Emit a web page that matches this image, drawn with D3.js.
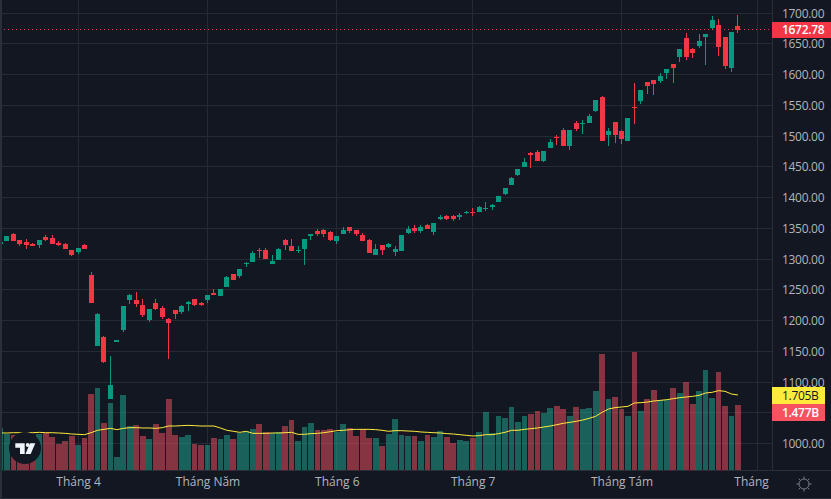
<!DOCTYPE html>
<html lang="vi">
<head>
    <meta charset="UTF-8">
    <title>Biểu đồ nến</title>
    <script src="https://cdn.jsdelivr.net/npm/d3@7"></script>
    <style type="text/css">
        html, body { margin: 0; padding: 0; background: #131722; overflow: hidden; }
        svg { display: block; }
        text { font-family: "Open Sans", "Noto Sans", sans-serif; }
        .tick text { fill: #B2B5BE; font-size: 12px; }
        .price .tick text { letter-spacing: -0.3px; }
        .axis path, .axis line { display: none; }
        .grid { stroke: #262A35; stroke-width: 1; shape-rendering: crispEdges; }
    </style>
</head>
<body>
    <div id="diagram"></div>
    <script type="text/javascript">
        // values, first candle is the cut off one at the left edge
        var opens = [1324.5,1329.4,1340.7,1331,1327.7,1324.5,1322.9,1335.9,1334.2,1326.1,1324.5,1314.7,1311.5,1322.9,1274.1,1158.6,1173.3,1072.4,1165.1,1184.6,1233.4,1233.4,1225.3,1200.9,1228.5,1220.4,1202.5,1217.2,1213.9,1226.9,1235,1228.5,1233.4,1244.8,1239.9,1254.5,1275.7,1272.4,1292,1295.2,1314.7,1314.7,1292,1298.5,1331,1321.2,1313.1,1316.4,1337.5,1345.6,1347.3,1344,1329.4,1340.8,1352.1,1347.3,1339.1,1331,1306.6,1322.9,1319.6,1311.5,1313.1,1342.4,1350.5,1345.6,1355.4,1344,1365.1,1370,1370,1368.4,1374.9,1376.5,1376.5,1381.4,1384.7,1392.8,1405.7,1420.4,1436.6,1449.6,1472.4,1474,1459.4,1480.5,1498.4,1509.8,1483.8,1521.2,1519.6,1521.2,1540.7,1563.5,1501.7,1522.8,1508.2,1491.9,1547.2,1557,1587.9,1591.1,1589.5,1602.5,1617.1,1628.5,1659.4,1641.5,1646.4,1661,1675.7,1680.6,1661,1610.6,1678.9];
        var closes = [1327.7,1337.5,1329.4,1324.5,1322.9,1321.2,1331,1331,1324.5,1322.9,1316.3,1306.6,1318,1316.3,1228.5,1210.6,1132.6,1095.2,1168.4,1223.7,1241.5,1226.9,1209,1218.8,1218.8,1205.8,1196,1210.6,1223.7,1230.2,1225.3,1225.3,1241.5,1241.5,1251.3,1270.8,1265.9,1283.8,1293.6,1309.8,1313.1,1300.1,1296.8,1316.3,1322.9,1313.1,1314.7,1332.6,1340.8,1340.8,1340.8,1331,1337.5,1347.3,1345.6,1340.8,1329.4,1309.9,1316.4,1314.7,1324.5,1316.4,1339.1,1348.9,1345.6,1352.1,1348.9,1358.6,1368.4,1365.1,1365.1,1371.6,1376.5,1375.4,1384.7,1383,1387.9,1402.5,1415.5,1431.8,1446.4,1457.8,1469.1,1459.4,1475.7,1490.3,1497.3,1483.8,1509.8,1511.4,1521.2,1532.6,1558.6,1491.9,1508.2,1501.7,1495.2,1529.3,1546.1,1574.8,1581.4,1584.6,1597.6,1609,1610.6,1641.5,1628.5,1635,1654.5,1665.9,1688.7,1644.8,1613.9,1669.2,1672.78];
        var highs = [1327.7,1337.5,1342.4,1331,1332.6,1326.1,1331,1339.1,1339.1,1329.4,1326.1,1314.7,1318,1324.5,1279,1212.3,1174.9,1142.4,1168.4,1223.7,1243.2,1246.4,1235,1218.8,1235,1223.7,1204.2,1217.2,1225.3,1231.8,1235,1230.2,1241.5,1251.3,1251.3,1272.4,1275.7,1283.8,1295.2,1313.1,1318,1318,1306.6,1318,1332.6,1332.6,1321.2,1332.6,1340.8,1348.9,1348.9,1345.6,1337.5,1352.1,1352.1,1347.3,1342.4,1332.6,1324.5,1322.9,1326.1,1321.2,1339.1,1353.8,1355.4,1355.4,1357,1358.6,1371.6,1371.6,1371.6,1374.9,1378.2,1383,1386.3,1392.8,1389.5,1402.5,1415.5,1433.4,1446.4,1464.3,1474,1477.3,1475.7,1495.2,1501.7,1513,1509.8,1524.4,1526.1,1535.8,1558.6,1565.1,1513,1522.8,1509.8,1529.3,1586.2,1574.8,1587.9,1591.1,1602.5,1609,1617.1,1641.5,1667.5,1643.2,1665.9,1665.9,1695.2,1690.3,1661,1669.2,1696.8];
        var lows = [1324.5,1329.4,1329.4,1321.2,1316.3,1321.2,1318.5,1329.4,1324.5,1321.2,1316.3,1305,1308.2,1316.3,1228.5,1158.6,1131,1072.4,1165.1,1181.4,1226.9,1222,1205.8,1197.6,1217.2,1202.5,1137.5,1202.5,1210.6,1215.5,1223.7,1223.7,1228.5,1241.5,1239.9,1254.5,1265.9,1269.2,1287.1,1295.2,1301.7,1300.1,1292,1298.5,1314.7,1313.1,1309.9,1290.4,1331,1337.5,1335.9,1329.4,1324.5,1340.8,1342.4,1337.5,1329.4,1309.9,1306.6,1306.6,1318,1305,1313.1,1340.8,1342.4,1342.4,1348.9,1339.1,1363.5,1364,1361.9,1363.5,1373.3,1370,1376.5,1378.2,1379.8,1392.8,1404.1,1420.4,1435,1449.6,1448,1459.4,1457.8,1480.5,1485.4,1483.8,1477.3,1508.2,1503.3,1521.2,1539.1,1491.9,1483.8,1488.7,1487,1491.9,1519.6,1552.1,1568.4,1566.7,1586.2,1592.7,1586.2,1620.4,1623.6,1626.9,1643.2,1615.5,1672.4,1630.1,1609,1604.1,1667.5];
        // volume in billions (B)
        var volumes = [0.955,0.82,0.8,0.62,0.65,0.72,0.82,0.84,0.75,0.59,0.66,0.77,0.57,0.73,1.73,1.86,1.07,1.52,0.295,1.70,1.0,1.02,0.77,0.70,1.05,0.84,1.61,0.80,0.75,0.80,0.59,0.57,0.57,0.73,0.70,0.80,0.70,0.84,0.89,0.93,1.05,0.86,0.84,0.86,1.0,1.14,0.66,0.98,1.07,0.91,0.91,0.93,0.86,1.05,0.95,0.77,0.93,0.73,0.73,0.55,0.82,1.16,0.80,0.77,0.77,0.66,0.80,0.75,0.89,0.75,0.61,0.68,0.66,0.73,0.86,1.32,0.84,1.23,1.18,1.43,1.09,1.23,1.27,1.34,1.30,1.41,1.45,1.39,1.23,1.43,1.39,1.41,1.80,2.64,1.61,1.66,1.39,1.23,2.68,1.34,1.61,1.82,1.59,1.59,1.86,1.75,2.0,1.50,1.80,2.27,1.64,2.23,1.45,1.23,1.477];
        var volumeMA = [0.841,0.841,0.848,0.848,0.848,0.848,0.856,0.848,0.848,0.841,0.833,0.818,0.811,0.803,0.848,0.902,0.924,0.947,0.917,0.947,0.962,0.962,0.955,0.955,0.947,0.962,1.0,1.0,1.008,1.015,1.008,1.0,1.0,1.0,0.955,0.902,0.879,0.856,0.879,0.833,0.833,0.833,0.841,0.841,0.848,0.856,0.811,0.811,0.826,0.833,0.848,0.871,0.894,0.902,0.917,0.924,0.924,0.924,0.917,0.902,0.879,0.894,0.894,0.886,0.879,0.864,0.856,0.848,0.841,0.826,0.818,0.803,0.788,0.773,0.780,0.803,0.803,0.826,0.856,0.902,0.902,0.924,0.939,0.955,0.977,1.0,1.03,1.061,1.083,1.106,1.136,1.174,1.22,1.311,1.386,1.417,1.432,1.447,1.523,1.53,1.545,1.568,1.583,1.598,1.621,1.644,1.659,1.674,1.697,1.75,1.765,1.803,1.788,1.727,1.705];
        var priceTicks = [1700,1650,1600,1550,1500,1450,1400,1350,1300,1250,1200,1150,1100,1000];
        var gridPrices = priceTicks.concat([1050]);
        var monthTicks = [12,32,52,73,96,117];
        var monthLabels = ["Tháng 4","Tháng Năm","Tháng 6","Tháng 7","Tháng Tám","Tháng"];
        var lastPrice = 1672.78;

        var width = 831, height = 499;
        var chart_width = 772, chart_bottom = 470;
        var up = "#089981", down = "#F23645";
        var volUp = "#22AB94", volDown = "#F7525F";

        var svg = d3.select("#diagram").append("svg")
            .attr("width", width)
            .attr("height", height);

        var x = d3.scaleLinear().domain([0, 117]).range([0.48, 757.35]);
        var y = d3.scaleLinear().domain([1000, 1700]).range([443.7, 13.2]);
        var v = d3.scaleLinear().domain([0, 1]).range([chart_bottom, chart_bottom - 44]);

        svg.append("clipPath").attr("id", "pane").append("rect")
            .attr("x", 2).attr("y", 0).attr("width", chart_width - 2).attr("height", chart_bottom);

        // grid
        svg.selectAll(".hgrid").data(gridPrices).enter().append("line")
            .attr("class", "grid")
            .attr("x1", 0).attr("x2", chart_width)
            .attr("y1", function (d) { return y(d); })
            .attr("y2", function (d) { return y(d); });
        svg.selectAll(".vgrid").data(monthTicks).enter().append("line")
            .attr("class", "grid")
            .attr("x1", function (d) { return Math.floor(x(d)) + 0.5; })
            .attr("x2", function (d) { return Math.floor(x(d)) + 0.5; })
            .attr("y1", 0).attr("y2", chart_bottom);

        var pane = svg.append("g").attr("clip-path", "url(#pane)");

        // volume
        pane.selectAll(".vol").data(volumes).enter().append("rect")
            .attr("class", "vol")
            .attr("x", function (d, i) { return Math.round(x(i) - 2.9); })
            .attr("width", function (d, i) { return Math.round(x(i) + 2.9) - Math.round(x(i) - 2.9); })
            .attr("y", function (d) { return v(d); })
            .attr("height", function (d) { return chart_bottom - v(d); })
            .attr("fill", function (d, i) { return closes[i] >= opens[i] ? volUp : volDown; })
            .attr("opacity", 0.5)
            .attr("shape-rendering", "crispEdges");

        // candles
        var candle = pane.selectAll(".candle").data(opens).enter().append("g").attr("class", "candle")
            .attr("fill", function (d, i) { return closes[i] >= opens[i] ? up : down; })
            .attr("shape-rendering", "crispEdges");
        candle.append("rect")
            .attr("x", function (d, i) { return Math.floor(x(i)); })
            .attr("width", 1)
            .attr("y", function (d, i) { return y(highs[i]); })
            .attr("height", function (d, i) { return y(lows[i]) - y(highs[i]); });
        candle.append("rect")
            .attr("x", function (d, i) { return Math.floor(x(i)) - 2; })
            .attr("width", 5)
            .attr("y", function (d, i) { return y(Math.max(opens[i], closes[i])); })
            .attr("height", function (d, i) { return Math.max(1, Math.abs(y(opens[i]) - y(closes[i]))); });

        // volume average
        var maLine = d3.line()
            .x(function (d, i) { return x(i); })
            .y(function (d) { return v(d); });
        pane.append("path")
            .attr("d", maLine(volumeMA))
            .attr("fill", "none")
            .attr("stroke", "#FFEB3B")
            .attr("stroke-width", 1);

        // last price line
        svg.append("line")
            .attr("x1", 0).attr("x2", chart_width)
            .attr("y1", Math.floor(y(lastPrice)) + 0.5).attr("y2", Math.floor(y(lastPrice)) + 0.5)
            .attr("stroke", down)
            .attr("stroke-dasharray", "1 3");

        // logo
        var logo = svg.append("g");
        logo.append("circle").attr("cx", 25).attr("cy", 448).attr("r", 16).attr("fill", "#131722");
        logo.append("path").attr("fill", "#F0F3FA")
            .attr("d", "M15.3 443.3H24.7V454H20V447.7H15.3Z M30 443.3H35.3L30.7 454H25.5Z");
        logo.append("circle").attr("cx", 27.7).attr("cy", 445).attr("r", 1.9).attr("fill", "#F0F3FA");

        // panes borders
        svg.append("rect").attr("x", 0).attr("y", 0).attr("width", 2).attr("height", height).attr("fill", "#2A2E39");
        svg.append("rect").attr("x", 0).attr("y", height - 1).attr("width", width).attr("height", 1).attr("fill", "#2A2E39");
        svg.append("rect").attr("x", 0).attr("y", chart_bottom).attr("width", width).attr("height", 1).attr("fill", "#2A2E39");
        svg.append("rect").attr("x", chart_width).attr("y", 0).attr("width", 1).attr("height", chart_bottom).attr("fill", "#2A2E39");

        // axes
        svg.append("g")
            .attr("class", "axis price")
            .attr("transform", "translate(" + chart_width + ",0)")
            .call(d3.axisRight(y).tickValues(priceTicks).tickSize(0).tickPadding(10).tickFormat(d3.format(".2f")));
        var xAxis = svg.append("g")
            .attr("class", "axis")
            .attr("transform", "translate(0," + chart_bottom + ")")
            .call(d3.axisBottom(x).tickValues(monthTicks).tickSize(0).tickPadding(7)
                .tickFormat(function (d, i) { return monthLabels[i]; }));
        xAxis.selectAll(".tick").filter(function (d, i) { return i == monthTicks.length - 1; })
            .select("text").attr("text-anchor", "end").attr("x", 11);

        // value labels
        function valueLabel(top, h, w, bg, color, weight, label) {
            svg.append("rect").attr("x", chart_width).attr("y", top).attr("width", w).attr("height", h).attr("fill", bg);
            svg.append("text")
                .attr("x", chart_width + 10).attr("y", top + h / 2).attr("dy", "0.35em")
                .attr("font-size", 12).attr("font-weight", weight).attr("letter-spacing", "-0.3px")
                .attr("fill", color).text(label);
        }
        valueLabel(Math.round(y(lastPrice)) - 8, 16, width - chart_width, down, "#FFFFFF", 600, d3.format(".2f")(lastPrice));
        valueLabel(Math.round(v(volumeMA[volumeMA.length - 1])) - 8, 17, 53, "#FFEB3B", "#131722", 400,
            volumeMA[volumeMA.length - 1].toFixed(3) + "B");
        valueLabel(Math.round(v(volumes[volumes.length - 1])) - 1, 17, 53, volDown, "#FFFFFF", 600,
            volumes[volumes.length - 1].toFixed(3) + "B");

        // settings icon
        var gear = svg.append("g").attr("transform", "translate(804,484)")
            .attr("stroke", "#787B86").attr("fill", "none");
        gear.append("circle").attr("r", 5);
        gear.selectAll("line").data(d3.range(8)).enter().append("line")
            .attr("x1", function (d) { return 5 * Math.cos(d * Math.PI / 4); })
            .attr("y1", function (d) { return 5 * Math.sin(d * Math.PI / 4); })
            .attr("x2", function (d) { return 7.5 * Math.cos(d * Math.PI / 4); })
            .attr("y2", function (d) { return 7.5 * Math.sin(d * Math.PI / 4); });
    </script>
</body>
</html>
